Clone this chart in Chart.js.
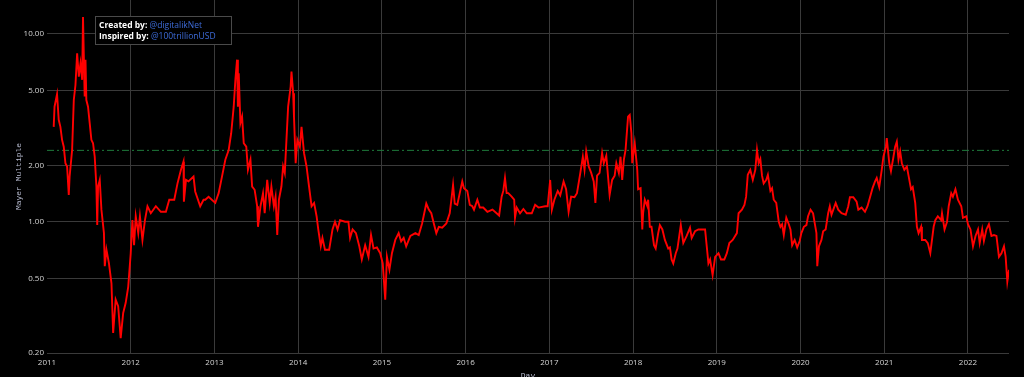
<!DOCTYPE html>
<html>
<head>
<meta charset="utf-8">
<script src="https://cdn.jsdelivr.net/npm/chart.js@4.4.0/dist/chart.umd.min.js"></script>
<style>
  html, body { margin: 0; padding: 0; background: #000; overflow: hidden; height: 377px; }
  #wrap { position: relative; width: 1024px; height: 385px; }
</style>
</head>
<body>
<div id="wrap"><canvas id="mayer"></canvas></div>
<script>
// decimal year of each sample
const dayYears = [
  2011.08, 2011.09, 2011.12, 2011.14, 2011.16, 2011.18, 2011.20, 2011.22, 2011.24, 2011.26,
  2011.27, 2011.30, 2011.32, 2011.34, 2011.36, 2011.38, 2011.40, 2011.42, 2011.43, 2011.45,
  2011.46, 2011.47, 2011.49, 2011.51, 2011.53, 2011.55, 2011.57, 2011.59, 2011.60, 2011.61,
  2011.63, 2011.65, 2011.68, 2011.69, 2011.71, 2011.74, 2011.77, 2011.79, 2011.82, 2011.85,
  2011.88, 2011.91, 2011.94, 2011.97, 2012.00, 2012.02, 2012.04, 2012.06, 2012.09, 2012.11,
  2012.14, 2012.17, 2012.20, 2012.24, 2012.30, 2012.36, 2012.42, 2012.46, 2012.52, 2012.56,
  2012.60, 2012.63, 2012.635, 2012.66, 2012.69, 2012.75, 2012.77, 2012.83, 2012.87, 2012.89,
  2012.93, 2013.01, 2013.05, 2013.09, 2013.13, 2013.17, 2013.20, 2013.23, 2013.25, 2013.27,
  2013.28, 2013.29, 2013.31, 2013.33, 2013.35, 2013.38, 2013.40, 2013.43, 2013.45, 2013.48,
  2013.51, 2013.52, 2013.55, 2013.58, 2013.60, 2013.63, 2013.66, 2013.68, 2013.71, 2013.73,
  2013.75, 2013.77, 2013.80, 2013.82, 2013.84, 2013.86, 2013.88, 2013.91, 2013.92, 2013.94,
  2013.95, 2013.97, 2013.99, 2014.02, 2014.04, 2014.07, 2014.10, 2014.13, 2014.16, 2014.19,
  2014.22, 2014.24, 2014.27, 2014.29, 2014.32, 2014.35, 2014.37, 2014.41, 2014.44, 2014.47,
  2014.50, 2014.56, 2014.60, 2014.62, 2014.65, 2014.69, 2014.73, 2014.76, 2014.80, 2014.84,
  2014.87, 2014.90, 2014.94, 2014.98, 2015.01, 2015.04, 2015.06, 2015.09, 2015.12, 2015.16,
  2015.20, 2015.23, 2015.26, 2015.29, 2015.34, 2015.40, 2015.44, 2015.48, 2015.53, 2015.56,
  2015.59, 2015.62, 2015.65, 2015.68, 2015.72, 2015.77, 2015.81, 2015.83, 2015.85, 2015.87,
  2015.90, 2015.93, 2015.96, 2015.98, 2016.02, 2016.05, 2016.08, 2016.10, 2016.14, 2016.17,
  2016.21, 2016.26, 2016.32, 2016.37, 2016.40, 2016.43, 2016.45, 2016.47, 2016.49, 2016.51,
  2016.55, 2016.58, 2016.59, 2016.61, 2016.65, 2016.69, 2016.73, 2016.79, 2016.83, 2016.87,
  2016.95, 2016.98, 2017.01, 2017.03, 2017.06, 2017.10, 2017.13, 2017.17, 2017.20, 2017.23,
  2017.26, 2017.30, 2017.33, 2017.37, 2017.40, 2017.42, 2017.44, 2017.47, 2017.50, 2017.53,
  2017.55, 2017.57, 2017.60, 2017.63, 2017.65, 2017.68, 2017.70, 2017.72, 2017.75, 2017.78,
  2017.80, 2017.83, 2017.85, 2017.87, 2017.89, 2017.91, 2017.94, 2017.96, 2017.98, 2017.99,
  2018.02, 2018.05, 2018.06, 2018.09, 2018.11, 2018.12, 2018.14, 2018.17, 2018.18, 2018.20,
  2018.22, 2018.25, 2018.27, 2018.30, 2018.32, 2018.35, 2018.38, 2018.42, 2018.44, 2018.46,
  2018.48, 2018.51, 2018.53, 2018.57, 2018.60, 2018.64, 2018.68, 2018.70, 2018.74, 2018.78,
  2018.84, 2018.86, 2018.88, 2018.90, 2018.92, 2018.95, 2018.98, 2019.02, 2019.05, 2019.09,
  2019.12, 2019.15, 2019.19, 2019.24, 2019.26, 2019.30, 2019.33, 2019.35, 2019.37, 2019.40,
  2019.43, 2019.46, 2019.48, 2019.50, 2019.52, 2019.54, 2019.56, 2019.59, 2019.61, 2019.64,
  2019.66, 2019.68, 2019.71, 2019.74, 2019.76, 2019.78, 2019.80, 2019.83, 2019.86, 2019.88,
  2019.90, 2019.93, 2019.96, 2019.99, 2020.01, 2020.04, 2020.07, 2020.09, 2020.12, 2020.15,
  2020.17, 2020.19, 2020.20, 2020.22, 2020.25, 2020.27, 2020.30, 2020.33, 2020.35, 2020.37,
  2020.40, 2020.42, 2020.45, 2020.49, 2020.54, 2020.57, 2020.59, 2020.63, 2020.67, 2020.69,
  2020.73, 2020.77, 2020.80, 2020.83, 2020.86, 2020.89, 2020.91, 2020.94, 2020.97, 2020.99,
  2021.02, 2021.03, 2021.06, 2021.08, 2021.11, 2021.13, 2021.15, 2021.17, 2021.19, 2021.21,
  2021.24, 2021.27, 2021.29, 2021.32, 2021.34, 2021.37, 2021.39, 2021.41, 2021.44, 2021.45,
  2021.49, 2021.52, 2021.55, 2021.59, 2021.61, 2021.64, 2021.68, 2021.69, 2021.72, 2021.75,
  2021.77, 2021.80, 2021.82, 2021.85, 2021.88, 2021.92, 2021.94, 2021.98, 2022.00, 2022.03,
  2022.06, 2022.09, 2022.12, 2022.14, 2022.17, 2022.19, 2022.22, 2022.25, 2022.28, 2022.31,
  2022.34, 2022.37, 2022.40, 2022.43, 2022.45, 2022.47, 2022.49
];

// Mayer Multiple at each sample
const mayerValues = [
  3.2, 4.1, 4.78, 3.49, 3.2, 2.73, 2.51, 2.05, 1.97, 1.39,
  1.74, 2.41, 4.45, 5.35, 7.9, 5.93, 6.98, 5.7, 12.3, 4.64,
  7.3, 4.45, 4.1, 3.35, 2.73, 2.62, 2.22, 1.54, 0.96, 1.54,
  1.67, 1.16, 0.87, 0.58, 0.71, 0.60, 0.47, 0.256, 0.385, 0.355,
  0.24, 0.327, 0.37, 0.45, 0.68, 1.02, 0.75, 1.07, 0.87, 1.07,
  0.80, 1.02, 1.21, 1.11, 1.21, 1.13, 1.13, 1.31, 1.31, 1.61,
  1.89, 2.09, 1.28, 1.67, 1.64, 1.74, 1.45, 1.21, 1.31, 1.31,
  1.36, 1.26, 1.42, 1.74, 2.14, 2.41, 2.96, 4.1, 5.7, 7.3,
  4.1, 6.17, 3.35, 3.63, 2.62, 2.51, 1.89, 2.14, 1.54, 1.48,
  1.21, 0.94, 1.21, 1.42, 1.11, 1.67, 1.26, 1.54, 1.21, 1.36,
  0.85, 1.31, 1.54, 1.97, 1.82, 2.73, 4.1, 5.25, 6.3, 4.84,
  3.63, 2.05, 2.73, 2.51, 3.2, 2.32, 1.97, 1.54, 1.21, 1.26,
  1.07, 0.91, 0.74, 0.82, 0.71, 0.71, 0.71, 0.91, 1.0, 0.91,
  1.02, 1.0, 1.0, 0.82, 0.91, 0.87, 0.74, 0.63, 0.75, 0.65,
  0.85, 0.72, 0.73, 0.68, 0.60, 0.385, 0.65, 0.555, 0.68, 0.80,
  0.87, 0.786, 0.82, 0.74, 0.84, 0.87, 0.85, 0.98, 1.25, 1.16,
  1.11, 0.98, 0.87, 0.94, 0.93, 0.98, 1.11, 1.31, 1.57, 1.25,
  1.23, 1.42, 1.64, 1.51, 1.46, 1.23, 1.21, 1.16, 1.31, 1.19,
  1.19, 1.13, 1.16, 1.11, 1.08, 1.36, 1.46, 1.71, 1.42, 1.42,
  1.36, 1.31, 1.05, 1.19, 1.11, 1.17, 1.11, 1.11, 1.23, 1.19,
  1.21, 1.21, 1.67, 1.16, 1.31, 1.46, 1.38, 1.64, 1.49, 1.13,
  1.36, 1.35, 1.42, 1.82, 2.22, 1.89, 2.37, 1.97, 1.82, 1.64,
  1.26, 1.76, 1.82, 2.32, 2.05, 2.25, 1.76, 1.39, 1.67, 1.76,
  2.05, 1.82, 2.22, 1.67, 2.14, 2.41, 3.63, 3.71, 2.96, 2.05,
  2.62, 1.89, 1.49, 1.51, 0.91, 1.11, 1.31, 1.21, 1.31, 0.94,
  0.94, 0.75, 0.72, 0.87, 0.96, 0.91, 0.80, 0.72, 0.73, 0.63,
  0.60, 0.68, 0.72, 0.96, 0.77, 0.84, 0.93, 0.82, 0.89, 0.91,
  0.91, 0.91, 0.74, 0.60, 0.63, 0.52, 0.65, 0.68, 0.63, 0.63,
  0.68, 0.77, 0.80, 0.87, 1.11, 1.16, 1.23, 1.36, 1.78, 1.89,
  1.67, 1.89, 2.41, 2.05, 2.16, 1.76, 1.6, 1.67, 1.78, 1.46,
  1.51, 1.31, 1.26, 1.0, 0.94, 0.97, 0.85, 1.05, 0.97, 0.91,
  0.75, 0.80, 0.73, 0.79, 0.87, 0.94, 0.96, 1.07, 1.16, 1.11,
  0.98, 0.87, 0.58, 0.74, 0.80, 0.89, 0.91, 1.11, 1.21, 1.09,
  1.19, 1.26, 1.16, 1.11, 1.09, 1.21, 1.35, 1.35, 1.28, 1.16,
  1.19, 1.13, 1.21, 1.35, 1.51, 1.64, 1.71, 1.53, 1.89, 2.22,
  2.51, 2.79, 2.05, 1.86, 2.22, 2.51, 2.67, 2.14, 2.37, 2.05,
  1.89, 1.97, 1.76, 1.49, 1.53, 1.26, 0.94, 0.87, 0.94, 0.80,
  0.80, 0.77, 0.68, 0.94, 1.02, 1.07, 1.02, 1.11, 0.91, 1.0,
  1.21, 1.42, 1.36, 1.49, 1.31, 1.21, 1.05, 1.07, 0.97, 0.91,
  0.74, 0.84, 0.91, 0.77, 0.91, 0.79, 0.91, 0.97, 0.84, 0.85,
  0.84, 0.65, 0.68, 0.74, 0.65, 0.48, 0.555
];

const yearTicks = [2011, 2012, 2013, 2014, 2015, 2016, 2017, 2018, 2019, 2020, 2021, 2022];
const mayerTicks = [0.2, 0.5, 1, 2, 5, 10];
const thresholdValue = 2.4;
const xStart = 2011;
const xEnd = 2022.49;

const creditLines = [
  ["Created by:", "@digitalikNet"],
  ["Inspired by:", "@100trillionUSD"]
];

const gridColor = "#3a3a3a";
const tickColor = "#d4d4d4";
const titleColor = "#b9bdd2";

const blackBackground = {
  id: "blackBackground",
  beforeDraw(chart) {
    const ctx = chart.ctx;
    ctx.save();
    ctx.fillStyle = "#000";
    ctx.fillRect(0, 0, chart.width, chart.height);
    ctx.restore();
  }
};

// the little credits box in the upper left
const creditBox = {
  id: "creditBox",
  afterDraw(chart) {
    const ctx = chart.ctx;
    ctx.save();
    ctx.fillStyle = "#000";
    ctx.fillRect(95.5, 16.5, 136, 28);
    ctx.strokeStyle = "#4a4a4a";
    ctx.lineWidth = 1;
    ctx.strokeRect(95.5, 16.5, 136, 28);
    ctx.textBaseline = "middle";
    creditLines.forEach((line, i) => {
      const y = 25.5 + i * 11;
      ctx.font = 'bold 8.5px "Open Sans"';
      ctx.fillStyle = "#ffffff";
      ctx.fillText(line[0], 99, y);
      const w = ctx.measureText(line[0] + " ").width;
      ctx.font = '8.5px "Open Sans"';
      ctx.fillStyle = "#3d6bd8";
      ctx.fillText(line[1], 99 + w, y);
    });
    ctx.restore();
  }
};

const ctx = document.getElementById("mayer").getContext("2d");

new Chart(ctx, {
  type: "line",
  data: {
    datasets: [
      {
        label: "Mayer Multiple",
        data: dayYears.map((x, i) => ({ x: x, y: mayerValues[i] })),
        borderColor: "#ff0000",
        borderWidth: 1.9,
        pointRadius: 0,
        tension: 0,
        order: 1
      },
      {
        label: "threshold",
        data: [{ x: xStart, y: thresholdValue }, { x: xEnd, y: thresholdValue }],
        borderColor: "#1f7a3c",
        borderWidth: 1,
        borderDash: [7, 3, 2, 3],
        pointRadius: 0,
        order: 2
      }
    ]
  },
  options: {
    responsive: true,
    maintainAspectRatio: false,
    animation: false,
    layout: { padding: { left: 0, right: 15, top: 0, bottom: 0 } },
    plugins: {
      legend: { display: false },
      tooltip: { enabled: false }
    },
    scales: {
      x: {
        type: "linear",
        min: xStart,
        max: xEnd,
        afterBuildTicks: (scale) => {
          scale.ticks = yearTicks.map((v) => ({ value: v }));
        },
        afterFit: (scale) => {
          scale.height = 32;
          scale.paddingLeft = 0;
          scale.paddingRight = 0;
        },
        ticks: {
          color: tickColor,
          font: { family: "Open Sans", size: 8 },
          padding: 5,
          maxRotation: 0,
          autoSkip: false,
          callback: (v) => String(v)
        },
        grid: {
          color: (c) => (c.index === 0 ? "rgba(0,0,0,0)" : gridColor),
          drawTicks: false
        },
        border: { display: false },
        title: {
          display: true,
          text: "Day",
          color: titleColor,
          font: { family: "Liberation Mono", size: 8 },
          padding: { top: 0, bottom: 4 }
        }
      },
      y: {
        type: "logarithmic",
        min: 0.2,
        max: 15.17,
        afterBuildTicks: (scale) => {
          scale.ticks = mayerTicks.map((v) => ({ value: v }));
        },
        afterFit: (scale) => {
          scale.width = 47;
          scale.paddingTop = 0;
          scale.paddingBottom = 0;
        },
        ticks: {
          color: tickColor,
          font: { family: "Open Sans", size: 8 },
          padding: 3,
          autoSkip: false,
          callback: (v) => Number(v).toFixed(2)
        },
        grid: { color: gridColor, drawTicks: false },
        border: { display: false },
        title: {
          display: true,
          text: "Mayer Multiple",
          color: titleColor,
          font: { family: "Liberation Mono", size: 8 },
          padding: { top: 14, bottom: 0 }
        }
      }
    }
  },
  plugins: [blackBackground, creditBox]
});
</script>
</body>
</html>
